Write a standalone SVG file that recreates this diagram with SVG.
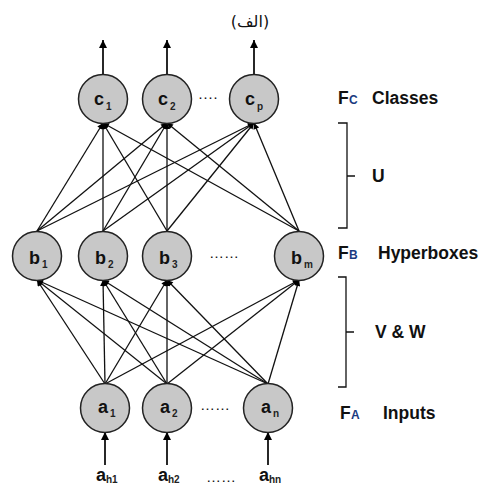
<svg xmlns="http://www.w3.org/2000/svg" width="489" height="487" viewBox="0 0 489 487">
<defs>
<marker id="ah" viewBox="0 0 10 10" refX="10" refY="5" markerWidth="7" markerHeight="6" markerUnits="userSpaceOnUse" orient="auto"><path d="M0,0 L10,5 L0,10 z" fill="#000"/></marker>
<marker id="ahb" viewBox="0 0 10 10" refX="10" refY="5" markerWidth="12" markerHeight="8" markerUnits="userSpaceOnUse" orient="auto"><path d="M0,0 L10,5 L0,10 z" fill="#000"/></marker>
</defs>
<style>
.n{fill:#c8c8c8;stroke:#222;stroke-width:1.5}
.t{font-family:"Liberation Sans",Arial,sans-serif;font-weight:bold;font-size:18px;fill:#111}
.s{font-family:"Liberation Sans",Arial,sans-serif;font-weight:bold;font-size:10px;fill:#222}
.e{stroke:#111;stroke-width:1.3;fill:none;marker-end:url(#ah)}
.io{stroke:#111;stroke-width:1.8;fill:none;marker-end:url(#ahb)}
.br{stroke:#111;stroke-width:1.3;fill:none}
.lb{font-family:"Liberation Sans",Arial,sans-serif;font-weight:bold;font-size:17.5px;fill:#111}
.ls{font-family:"Liberation Sans",Arial,sans-serif;font-weight:bold;font-size:12px;fill:#1a3a80}
.d{font-family:"Liberation Sans",Arial,sans-serif;font-size:15px;fill:#111}
</style>
<rect width="489" height="487" fill="#fff"/>
<text x="250" y="27" text-anchor="middle" font-family="DejaVu Sans,sans-serif" font-size="16" fill="#111">(الف)</text>
<g id="connectors">
<line class="io" x1="103" y1="75" x2="103" y2="40"/>
<line class="io" x1="167" y1="75" x2="167" y2="40"/>
<line class="io" x1="254" y1="75" x2="254" y2="40"/>
<line class="e" x1="37" y1="231" x2="103" y2="123"/>
<line class="e" x1="37" y1="231" x2="167" y2="123"/>
<line class="e" x1="37" y1="231" x2="254" y2="123"/>
<line class="e" x1="103" y1="231" x2="103" y2="123"/>
<line class="e" x1="103" y1="231" x2="167" y2="123"/>
<line class="e" x1="103" y1="231" x2="254" y2="123"/>
<line class="e" x1="167" y1="231" x2="103" y2="123"/>
<line class="e" x1="167" y1="231" x2="167" y2="123"/>
<line class="e" x1="167" y1="231" x2="254" y2="123"/>
<line class="e" x1="299" y1="231" x2="103" y2="123"/>
<line class="e" x1="299" y1="231" x2="167" y2="123"/>
<line class="e" x1="299" y1="231" x2="254" y2="123"/>
<line class="e" x1="105" y1="384" x2="37" y2="280"/>
<line class="e" x1="105" y1="384" x2="103" y2="280"/>
<line class="e" x1="105" y1="384" x2="167" y2="280"/>
<line class="e" x1="105" y1="384" x2="299" y2="280"/>
<line class="e" x1="167" y1="384" x2="37" y2="280"/>
<line class="e" x1="167" y1="384" x2="103" y2="280"/>
<line class="e" x1="167" y1="384" x2="167" y2="280"/>
<line class="e" x1="167" y1="384" x2="299" y2="280"/>
<line class="e" x1="268" y1="384" x2="37" y2="280"/>
<line class="e" x1="268" y1="384" x2="103" y2="280"/>
<line class="e" x1="268" y1="384" x2="167" y2="280"/>
<line class="e" x1="268" y1="384" x2="299" y2="280"/>
<line class="io" x1="105" y1="465" x2="105" y2="432"/>
<line class="io" x1="167" y1="465" x2="167" y2="432"/>
<line class="io" x1="268" y1="465" x2="268" y2="432"/>
</g>
<g id="c1"><circle class="n" cx="103" cy="99" r="24.5"/><text class="t" x="104" y="105" text-anchor="end">c</text><text class="s" x="106" y="110">1</text></g>
<g id="c2"><circle class="n" cx="167" cy="99" r="24.5"/><text class="t" x="168" y="105" text-anchor="end">c</text><text class="s" x="170" y="110">2</text></g>
<g id="cp"><circle class="n" cx="254" cy="99" r="24.5"/><text class="t" x="255" y="105" text-anchor="end">c</text><text class="s" x="257" y="110">p</text></g>
<text class="d" x="198" y="102">····</text>
<g id="b1"><circle class="n" cx="37" cy="256" r="24.5"/><text class="t" x="40" y="264" text-anchor="end">b</text><text class="s" x="42" y="268">1</text></g>
<g id="b2"><circle class="n" cx="103" cy="256" r="24.5"/><text class="t" x="106" y="264" text-anchor="end">b</text><text class="s" x="108" y="268">2</text></g>
<g id="b3"><circle class="n" cx="167" cy="256" r="24.5"/><text class="t" x="170" y="264" text-anchor="end">b</text><text class="s" x="172" y="268">3</text></g>
<g id="bm"><circle class="n" cx="299" cy="256" r="24.5"/><text class="t" x="302" y="264" text-anchor="end">b</text><text class="s" x="304" y="268">m</text></g>
<text class="d" x="209" y="258">……</text>
<g id="a1"><circle class="n" cx="105" cy="408" r="24.5"/><text class="t" x="108" y="413" text-anchor="end">a</text><text class="s" x="110" y="417">1</text></g>
<g id="a2"><circle class="n" cx="167" cy="408" r="24.5"/><text class="t" x="170" y="413" text-anchor="end">a</text><text class="s" x="172" y="417">2</text></g>
<g id="an"><circle class="n" cx="268" cy="408" r="24.5"/><text class="t" x="271" y="413" text-anchor="end">a</text><text class="s" x="273" y="417">n</text></g>
<text class="d" x="200" y="410">……</text>
<g id="ah1"><text class="t" x="96" y="481">a</text><text class="s" x="106" y="483">h1</text></g>
<g id="ah2"><text class="t" x="158" y="481">a</text><text class="s" x="168" y="483">h2</text></g>
<g id="ahn"><text class="t" x="259" y="481">a</text><text class="s" x="269" y="483">hn</text></g>
<text class="d" x="206" y="482">……</text>
<g id="fc"><text class="lb" x="338" y="104">F</text><text class="ls" x="349" y="104">C</text><text class="lb" x="372" y="104">Classes</text></g>
<g id="fb"><text class="lb" x="338" y="259">F</text><text class="ls" x="349" y="259">B</text><text class="lb" x="378" y="259">Hyperboxes</text></g>
<g id="fa"><text class="lb" x="340" y="419">F</text><text class="ls" x="351" y="419">A</text><text class="lb" x="383" y="419">Inputs</text></g>
<g id="bracketU"><path class="br" d="M338,123 H347 V228 H338 M347,176 H355"/><text class="lb" x="372" y="182">U</text></g>
<g id="bracketVW"><path class="br" d="M338,277 H346 V387 H338 M346,332 H354"/><text class="lb" x="375" y="338">V &amp; W</text></g>
</svg>
